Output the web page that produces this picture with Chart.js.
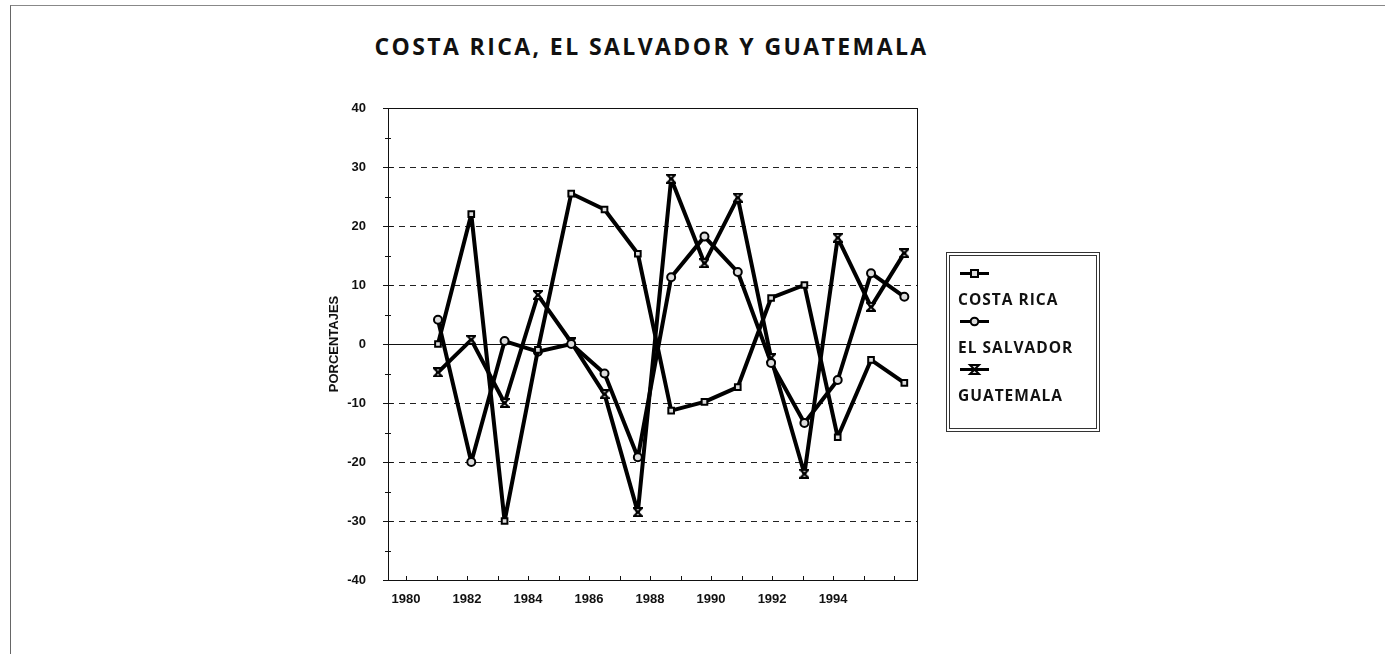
<!DOCTYPE html>
<html>
<head>
<meta charset="utf-8">
<script src="https://cdn.jsdelivr.net/npm/chart.js@4/dist/chart.umd.min.js"></script>
<style>
  html, body { margin: 0; padding: 0; background: #fff; }
  body { width: 1385px; height: 654px; position: relative; overflow: hidden; }
  #frame { position: absolute; left: 10px; top: 5px; width: 1400px; height: 700px;
           border-top: 1px solid #888; border-left: 1px solid #666; }
  #title { position: absolute; left: 0; top: 30px; width: 1303px; text-align: center;
           font: bold 23px "Open Sans", "Liberation Sans", sans-serif; letter-spacing: 2.4px; color: #111; }
  #chart { position: absolute; left: 0; top: 0; }
  #legend { position: absolute; left: 946px; top: 252px; width: 146px; height: 172px;
            border: 4px double #333; font: bold 15.5px "Open Sans", "Liberation Sans", sans-serif;
            letter-spacing: 1px; color: #111; }
  .entry { position: absolute; left: 8px; }
  .entry svg { display: block; }
</style>
</head>
<body>
<div id="frame"></div>
<div id="title">COSTA RICA, EL SALVADOR Y GUATEMALA</div>
<canvas id="chart" width="1385" height="654"></canvas>
<div id="legend"></div>
<script>
// values, years 1981-1995
const years = [1981, 1982, 1983, 1984, 1985, 1986, 1987, 1988, 1989, 1990, 1991, 1992, 1993, 1994, 1995];
const costaRica  = [0, 22, -30, -1, 25.5, 22.8, 15.3, -11.3, -9.8, -7.3, 7.8, 10, -15.8, -2.7, -6.6];
const elSalvador = [4.1, -20, 0.5, -1.3, 0, -5, -19.2, 11.3, 18.2, 12.2, -3.2, -13.4, -6.1, 12, 8];
const guatemala  = [-4.8, 0.7, -10, 8.3, 0.3, -8.5, -28.5, 28, 13.7, 24.8, -2.4, -22, 18, 6.3, 15.4];

const seriesNames = ['COSTA RICA', 'EL SALVADOR', 'GUATEMALA'];
const xLabels = [1980, 1982, 1984, 1986, 1988, 1990, 1992, 1994];
const yMin = -40, yMax = 40;

function hourglass(size) {
    const c = document.createElement('canvas');
    c.width = c.height = size;
    const g = c.getContext('2d');
    g.fillStyle = '#ddd';
    g.strokeStyle = '#000';
    g.lineWidth = 2;
    g.beginPath();
    g.moveTo(1, 1);
    g.lineTo(size - 1, 1);
    g.lineTo(1, size - 1);
    g.lineTo(size - 1, size - 1);
    g.closePath();
    g.fill();
    g.stroke();
    return c;
}

const markers = ['rect', 'circle', hourglass(10)];
const seriesData = [costaRica, elSalvador, guatemala];

// plot box, zero line and the small axis ticks
const framePlugin = {
    id: 'frame',
    beforeDatasetsDraw(chart) {
        const { ctx, chartArea: a, scales } = chart;
        const y = scales.y, x = scales.x;
        ctx.save();
        ctx.strokeStyle = '#111';
        ctx.lineWidth = 1;
        const y0 = Math.round(y.getPixelForValue(0)) + 0.5;
        ctx.beginPath();
        ctx.moveTo(a.left, y0);
        ctx.lineTo(a.right, y0);
        ctx.stroke();
        ctx.strokeRect(Math.round(a.left) + 0.5, Math.round(a.top) + 0.5,
            Math.round(a.right - a.left), Math.round(a.bottom - a.top));
        for (let v = yMin; v <= yMax; v += 5) {
            const py = Math.round(y.getPixelForValue(v)) + 0.5;
            const len = v % 10 === 0 ? 5 : 3;
            ctx.beginPath();
            ctx.moveTo(a.left - len, py);
            ctx.lineTo(a.left + len, py);
            ctx.stroke();
        }
        for (let yr = Math.ceil(x.min); yr <= x.max; yr++) {
            const px = Math.round(x.getPixelForValue(yr)) + 0.5;
            ctx.beginPath();
            ctx.moveTo(px, a.bottom);
            ctx.lineTo(px, a.bottom - 4);
            ctx.stroke();
        }
        ctx.restore();
    }
};

const tickFont = { family: '"Liberation Sans", Arial, sans-serif', size: 13, weight: 'bold' };

new Chart(document.getElementById('chart'), {
    type: 'line',
    data: {
        datasets: seriesNames.map((name, i) => ({
            label: name,
            data: years.map((yr, k) => ({ x: yr, y: seriesData[i][k] })),
            xAxisID: 'xd',
            borderColor: '#000',
            borderWidth: 4,
            borderJoinStyle: 'round',
            borderCapStyle: 'round',
            pointStyle: markers[i],
            pointRadius: 4,
            pointBorderWidth: 2,
            pointBackgroundColor: '#ddd',
            pointBorderColor: '#000',
            tension: 0
        }))
    },
    options: {
        responsive: false,
        animation: false,
        layout: { padding: { left: 323, right: 468, top: 108, bottom: 44 } },
        plugins: { legend: { display: false }, tooltip: { enabled: false } },
        scales: {
            x: {
                type: 'linear',
                min: 1979.41,
                max: 1996.75,
                afterBuildTicks: s => { s.ticks = xLabels.map(v => ({ value: v })); },
                afterFit: s => { s.height = 30; },
                ticks: { color: '#111', font: tickFont, padding: 4, maxRotation: 0,
                         autoSkip: false, callback: v => String(v) },
                grid: { display: false },
                border: { display: false }
            },
            xd: {
                type: 'linear',
                display: false,
                min: 1979.5,
                max: 1995.38
            },
            y: {
                min: yMin,
                max: yMax,
                afterFit: s => { s.width = 65; },
                ticks: { stepSize: 10, color: '#111', font: tickFont, padding: 22 },
                grid: {
                    drawTicks: false,
                    color: c => (c.tick.value === 0 || Math.abs(c.tick.value) === 40) ? 'rgba(0,0,0,0)' : '#222',
                    lineWidth: 1
                },
                border: { display: false, dash: [6, 5] },
                title: {
                    display: true,
                    text: 'PORCENTAJES',
                    color: '#111',
                    font: { family: '"Liberation Sans", Arial, sans-serif', size: 13, weight: 'bold' }
                }
            }
        }
    },
    plugins: [framePlugin]
});

// legend: marker sample above each name
const legend = document.getElementById('legend');
const symbolSvg = [
    '<rect x="13" y="2" width="7" height="7" fill="#ddd" stroke="#000" stroke-width="2"/>',
    '<circle cx="16.5" cy="5.5" r="3.8" fill="#ddd" stroke="#000" stroke-width="2"/>',
    '<path d="M12 1 H21 L12 10 H21 Z" fill="#ddd" stroke="#000" stroke-width="2"/>'
];
seriesNames.forEach((name, i) => {
    const top = 20 + i * 48;
    const sym = document.createElement('div');
    sym.className = 'entry';
    sym.style.top = (top - 8) + 'px';
    sym.innerHTML = '<svg width="34" height="12"><line x1="2" y1="5.5" x2="31" y2="5.5" stroke="#000" stroke-width="3"/>' + symbolSvg[i] + '</svg>';
    legend.appendChild(sym);
    const txt = document.createElement('div');
    txt.className = 'entry';
    txt.style.top = (top + 12) + 'px';
    txt.textContent = name;
    legend.appendChild(txt);
});
</script>
</body>
</html>
